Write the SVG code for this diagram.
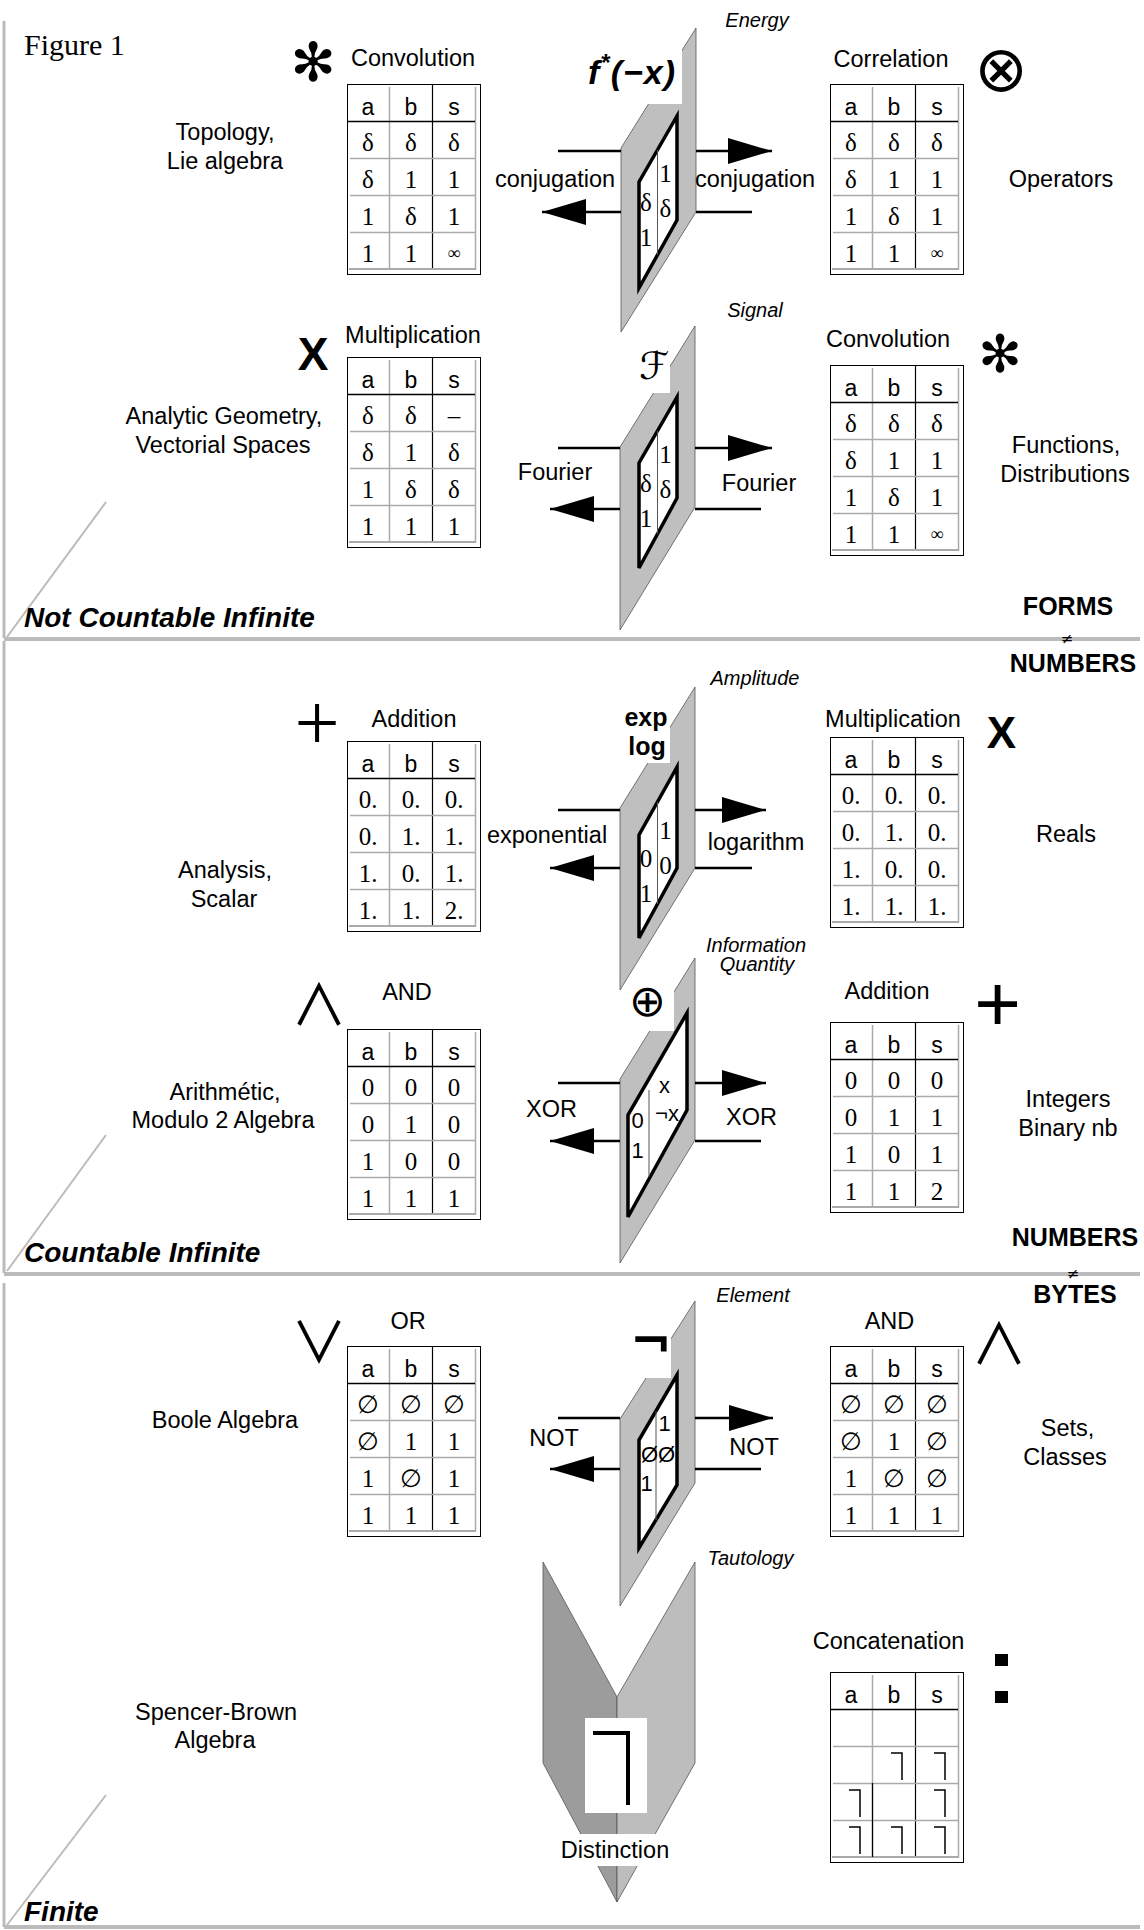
<svg xmlns="http://www.w3.org/2000/svg" xmlns:xlink="http://www.w3.org/1999/xlink" width="1144" height="1930" viewBox="0 0 1144 1930">
<style>
.lbl{font-family:"Liberation Sans",Arial,sans-serif;font-size:23.5px;text-anchor:middle;fill:#000}
.it{font-family:"Liberation Sans",Arial,sans-serif;font-size:20px;font-style:italic;text-anchor:middle}
.sec{font-family:"Liberation Sans",Arial,sans-serif;font-size:28px;font-style:italic;font-weight:bold}
.big{font-family:"Liberation Sans",Arial,sans-serif;font-size:25px;font-weight:bold;text-anchor:middle}
.th{font-family:"Liberation Sans",Arial,sans-serif;font-size:23px;text-anchor:middle}
.td{font-family:"Liberation Serif","Times New Roman",serif;font-size:25px;text-anchor:middle}
.inf{font-family:"Liberation Serif","DejaVu Serif",serif;font-size:18px;text-anchor:middle}
.wt{font-family:"Liberation Serif","Times New Roman",serif;font-size:25px;text-anchor:middle}
.ws{font-family:"Liberation Sans",Arial,sans-serif;font-size:22px;text-anchor:middle}
.sym{font-family:"DejaVu Sans",sans-serif;text-anchor:middle}
.lg{font-family:"Noto Sans CJK JP","DejaVu Sans",sans-serif;text-anchor:middle}
.plane{fill:#bfbfbf;stroke:#555;stroke-width:0.8}
.win{fill:#fff;stroke:#000;stroke-width:3.5;stroke-linejoin:miter}
.mid{stroke:#555;stroke-width:1}
.wb{fill:#fff}
.frame{stroke:#bbb;stroke-width:3;fill:none}
.div{stroke:#bbb;stroke-width:4}
.diag{stroke:#bbb;stroke-width:2}
.conn{stroke:#000;stroke-width:2.5;fill:none}
.gl{stroke:#aaa;stroke-width:1.5}
.bl{stroke:#000;stroke-width:1.2}
.mk{stroke:#000;stroke-width:1.5;fill:none}
</style>
<defs>
<marker id="ah" markerUnits="userSpaceOnUse" markerWidth="48" markerHeight="30" refX="44" refY="13" orient="auto">
<path d="M0,0 L44,13 L0,26 z" fill="#000"/>
</marker>
<g id="tframe">
<rect x="0.5" y="0.5" width="133" height="190" fill="#fff" stroke="#000" stroke-width="1"/>
<line class="gl" x1="42.5" y1="3" x2="42.5" y2="185"/>
<line class="bl" x1="85.5" y1="1" x2="85.5" y2="185"/>
<line class="gl" x1="128.5" y1="3" x2="128.5" y2="186"/>
<line stroke="#000" stroke-width="1.6" x1="1" y1="37.5" x2="128" y2="37.5"/>
<line class="gl" x1="3" y1="74.5" x2="128" y2="74.5"/>
<line class="gl" x1="3" y1="111.5" x2="128" y2="111.5"/>
<line class="gl" x1="3" y1="148.5" x2="128" y2="148.5"/>
<line stroke="#aaa" stroke-width="2" x1="2" y1="185" x2="129" y2="185"/>
<text class="th" x="21" y="31">a</text>
<text class="th" x="64" y="31">b</text>
<text class="th" x="107" y="31">s</text>
</g>
</defs>
<rect width="1144" height="1930" fill="#fff"/>

<g id="frame">
<line class="frame" x1="4" y1="21" x2="4" y2="638"/>
<line class="frame" x1="4" y1="641" x2="4" y2="1273"/>
<line class="frame" x1="4" y1="1283" x2="4" y2="1927"/>
<line class="div" x1="4" y1="639" x2="1140" y2="639"/>
<line class="div" x1="4" y1="1274" x2="1140" y2="1274"/>
<line class="div" x1="4" y1="1927" x2="1140" y2="1927"/>
<line class="diag" x1="106" y1="502" x2="7" y2="637"/>
<line class="diag" x1="106" y1="1135" x2="7" y2="1271"/>
<line class="diag" x1="106" y1="1795" x2="7" y2="1925"/>
<text x="24" y="55" font-family="Liberation Serif,Times New Roman,serif" font-size="30">Figure 1</text>
<text class="sec" x="24" y="627">Not Countable Infinite</text>
<text class="sec" x="24" y="1262">Countable Infinite</text>
<text class="sec" x="24" y="1921">Finite</text>
<text class="big" x="1068" y="615">FORMS</text>
<text x="1067" y="644" font-family="DejaVu Sans,sans-serif" font-size="15" text-anchor="middle">≠</text>
<text class="big" x="1073" y="672">NUMBERS</text>
<text class="big" x="1075" y="1246">NUMBERS</text>
<text x="1073" y="1279" font-family="DejaVu Sans,sans-serif" font-size="15" text-anchor="middle">≠</text>
<text class="big" x="1075" y="1303">BYTES</text>
</g>

<!-- Section 1 -->
<g id="domain-topology">
<text class="lbl" x="225" y="140">Topology,</text>
<text class="lbl" x="225" y="169">Lie algebra</text>
</g>
<g id="op-convolution-left">
<text class="sym" x="313" y="81" font-size="54">✻</text>
<text class="lbl" x="413" y="66">Convolution</text>
<g transform="translate(347,84)"><use xlink:href="#tframe"/>
<text class="td" x="21" y="67">δ</text><text class="td" x="64" y="67">δ</text><text class="td" x="107" y="67">δ</text>
<text class="td" x="21" y="104">δ</text><text class="td" x="64" y="104">1</text><text class="td" x="107" y="104">1</text>
<text class="td" x="21" y="141">1</text><text class="td" x="64" y="141">δ</text><text class="td" x="107" y="141">1</text>
<text class="td" x="21" y="178">1</text><text class="td" x="64" y="178">1</text><text class="inf" x="107" y="175">∞</text>
</g>
</g>
<g id="op-correlation">
<text class="lbl" x="891" y="67">Correlation</text>
<text class="sym" x="1001" y="91" font-size="64">⊗</text>
<g transform="translate(830,84)"><use xlink:href="#tframe"/>
<text class="td" x="21" y="67">δ</text><text class="td" x="64" y="67">δ</text><text class="td" x="107" y="67">δ</text>
<text class="td" x="21" y="104">δ</text><text class="td" x="64" y="104">1</text><text class="td" x="107" y="104">1</text>
<text class="td" x="21" y="141">1</text><text class="td" x="64" y="141">δ</text><text class="td" x="107" y="141">1</text>
<text class="td" x="21" y="178">1</text><text class="td" x="64" y="178">1</text><text class="inf" x="107" y="175">∞</text>
</g>
</g>
<g id="domain-operators"><text class="lbl" x="1061" y="187">Operators</text></g>

<g id="plane-energy">
<polygon class="plane" points="621,148 696,28 696,212 621,332"/>
<rect class="wb" x="583" y="40" width="99" height="64"/>
<text x="588" y="84" font-family="Liberation Sans,Arial,sans-serif" font-size="34" font-weight="bold" font-style="italic" letter-spacing="1">f<tspan dy="-13" font-size="24">*</tspan><tspan dy="13">(−x)</tspan></text>
<polygon class="win" points="677,116 639,182 639,288 677,220"/>
<line class="mid" x1="657.5" y1="150" x2="657.5" y2="255"/>
<text class="wt" x="665.5" y="182">1</text>
<text class="wt" x="646" y="211">δ</text>
<text class="wt" x="665.5" y="217">δ</text>
<text class="wt" x="646" y="246">1</text>
<text class="it" x="757" y="27">Energy</text>
<text class="lbl" x="555" y="187">conjugation</text>
<text class="lbl" x="755" y="187">conjugation</text>
</g>

<g id="domain-analytic">
<text class="lbl" x="224" y="424">Analytic Geometry,</text>
<text class="lbl" x="223" y="453">Vectorial Spaces</text>
</g>
<g id="op-multiplication-left">
<text x="313" y="370" font-family="Liberation Sans,Arial,sans-serif" font-size="46" font-weight="bold" text-anchor="middle">X</text>
<text class="lbl" x="413" y="343">Multiplication</text>
<g transform="translate(347,357)"><use xlink:href="#tframe"/>
<text class="td" x="21" y="67">δ</text><text class="td" x="64" y="67">δ</text><text class="td" x="107" y="67">–</text>
<text class="td" x="21" y="104">δ</text><text class="td" x="64" y="104">1</text><text class="td" x="107" y="104">δ</text>
<text class="td" x="21" y="141">1</text><text class="td" x="64" y="141">δ</text><text class="td" x="107" y="141">δ</text>
<text class="td" x="21" y="178">1</text><text class="td" x="64" y="178">1</text><text class="td" x="107" y="178">1</text>
</g>
</g>
<g id="op-convolution-right">
<text class="lbl" x="888" y="347">Convolution</text>
<text class="sym" x="1000" y="372" font-size="52">✻</text>
<g transform="translate(830,365)"><use xlink:href="#tframe"/>
<text class="td" x="21" y="67">δ</text><text class="td" x="64" y="67">δ</text><text class="td" x="107" y="67">δ</text>
<text class="td" x="21" y="104">δ</text><text class="td" x="64" y="104">1</text><text class="td" x="107" y="104">1</text>
<text class="td" x="21" y="141">1</text><text class="td" x="64" y="141">δ</text><text class="td" x="107" y="141">1</text>
<text class="td" x="21" y="178">1</text><text class="td" x="64" y="178">1</text><text class="inf" x="107" y="175">∞</text>
</g>
</g>
<g id="domain-functions">
<text class="lbl" x="1066" y="453">Functions,</text>
<text class="lbl" x="1065" y="482">Distributions</text>
</g>

<g id="plane-signal">
<polygon class="plane" points="620,447 695,326 695,507 620,630"/>
<rect class="wb" x="636" y="335" width="34" height="58"/>
<text x="654" y="379" font-family="DejaVu Serif,DejaVu Sans,serif" font-size="38" font-style="italic" text-anchor="middle">ℱ</text>
<polygon class="win" points="677,397 639,463 639,568 677,498"/>
<line class="mid" x1="657.5" y1="431" x2="657.5" y2="534"/>
<text class="wt" x="665.5" y="463">1</text>
<text class="wt" x="646" y="492">δ</text>
<text class="wt" x="665.5" y="498">δ</text>
<text class="wt" x="646" y="527">1</text>
<text class="it" x="755" y="317">Signal</text>
<text class="lbl" x="555" y="480">Fourier</text>
<text class="lbl" x="759" y="491">Fourier</text>
</g>

<!-- Section 2 -->
<g id="domain-analysis">
<text class="lbl" x="225" y="878">Analysis,</text>
<text class="lbl" x="224" y="907">Scalar</text>
</g>
<g id="op-addition-left">
<text x="317" y="750" font-family="Liberation Serif,Times New Roman,serif" font-size="80" text-anchor="middle">+</text>
<text class="lbl" x="414" y="727">Addition</text>
<g transform="translate(347,741)"><use xlink:href="#tframe"/>
<text class="td" x="21" y="67">0.</text><text class="td" x="64" y="67">0.</text><text class="td" x="107" y="67">0.</text>
<text class="td" x="21" y="104">0.</text><text class="td" x="64" y="104">1.</text><text class="td" x="107" y="104">1.</text>
<text class="td" x="21" y="141">1.</text><text class="td" x="64" y="141">0.</text><text class="td" x="107" y="141">1.</text>
<text class="td" x="21" y="178">1.</text><text class="td" x="64" y="178">1.</text><text class="td" x="107" y="178">2.</text>
</g>
</g>
<g id="op-multiplication-right">
<text class="lbl" x="893" y="727">Multiplication</text>
<text x="1001.5" y="748" font-family="Liberation Sans,Arial,sans-serif" font-size="44" font-weight="bold" text-anchor="middle">X</text>
<g transform="translate(830,737)"><use xlink:href="#tframe"/>
<text class="td" x="21" y="67">0.</text><text class="td" x="64" y="67">0.</text><text class="td" x="107" y="67">0.</text>
<text class="td" x="21" y="104">0.</text><text class="td" x="64" y="104">1.</text><text class="td" x="107" y="104">0.</text>
<text class="td" x="21" y="141">1.</text><text class="td" x="64" y="141">0.</text><text class="td" x="107" y="141">0.</text>
<text class="td" x="21" y="178">1.</text><text class="td" x="64" y="178">1.</text><text class="td" x="107" y="178">1.</text>
</g>
</g>
<g id="domain-reals"><text class="lbl" x="1066" y="842">Reals</text></g>

<g id="plane-amplitude">
<polygon class="plane" points="620,808 695,687 695,868 620,990"/>
<rect class="wb" x="614" y="700" width="56" height="63"/>
<text x="646" y="726" font-family="Liberation Sans,Arial,sans-serif" font-size="25" font-weight="bold" text-anchor="middle">exp</text>
<text x="647" y="755" font-family="Liberation Sans,Arial,sans-serif" font-size="25" font-weight="bold" text-anchor="middle">log</text>
<polygon class="win" points="677,767 639,835 639,938 677,868"/>
<line class="mid" x1="657.5" y1="802" x2="657.5" y2="904"/>
<text class="wt" x="665.5" y="839">1</text>
<text class="wt" x="646" y="867">0</text>
<text class="wt" x="665.5" y="874">0</text>
<text class="wt" x="646" y="902">1</text>
<text class="it" x="755" y="685">Amplitude</text>
<text class="lbl" x="547" y="843">exponential</text>
<text class="lbl" x="756" y="850">logarithm</text>
</g>

<g id="domain-arithmetic">
<text class="lbl" x="225" y="1100">Arithmétic,</text>
<text class="lbl" x="223" y="1128">Modulo 2 Algebra</text>
</g>
<g id="op-and-left">
<text class="lg" x="319" y="1025" font-size="56">∧</text>
<text class="lbl" x="407" y="1000">AND</text>
<g transform="translate(347,1029)"><use xlink:href="#tframe"/>
<text class="td" x="21" y="67">0</text><text class="td" x="64" y="67">0</text><text class="td" x="107" y="67">0</text>
<text class="td" x="21" y="104">0</text><text class="td" x="64" y="104">1</text><text class="td" x="107" y="104">0</text>
<text class="td" x="21" y="141">1</text><text class="td" x="64" y="141">0</text><text class="td" x="107" y="141">0</text>
<text class="td" x="21" y="178">1</text><text class="td" x="64" y="178">1</text><text class="td" x="107" y="178">1</text>
</g>
</g>
<g id="op-addition-right">
<text class="lbl" x="887" y="999">Addition</text>
<text x="997.5" y="1031" font-family="Liberation Sans,Arial,sans-serif" font-size="80" text-anchor="middle">+</text>
<g transform="translate(830,1022)"><use xlink:href="#tframe"/>
<text class="td" x="21" y="67">0</text><text class="td" x="64" y="67">0</text><text class="td" x="107" y="67">0</text>
<text class="td" x="21" y="104">0</text><text class="td" x="64" y="104">1</text><text class="td" x="107" y="104">1</text>
<text class="td" x="21" y="141">1</text><text class="td" x="64" y="141">0</text><text class="td" x="107" y="141">1</text>
<text class="td" x="21" y="178">1</text><text class="td" x="64" y="178">1</text><text class="td" x="107" y="178">2</text>
</g>
</g>
<g id="domain-integers">
<text class="lbl" x="1068" y="1107">Integers</text>
<text class="lbl" x="1068" y="1136">Binary nb</text>
</g>

<g id="plane-information">
<polygon class="plane" points="620,1079 695,958 695,1140 620,1263"/>
<rect class="wb" x="631" y="978" width="43" height="53"/>
<text class="sym" x="647.5" y="1016" font-size="44">⊕</text>
<polygon class="win" points="687,1013 628,1115 628,1217 687,1110"/>
<line class="mid" x1="649" y1="1090" x2="649" y2="1177"/>
<text class="ws" x="664.5" y="1093">x</text>
<text class="ws" x="667" y="1121">¬x</text>
<text class="ws" x="637.6" y="1128">0</text>
<text class="ws" x="637.6" y="1158">1</text>
<text class="it" x="756" y="952">Information</text>
<text class="it" x="757" y="971">Quantity</text>
<text class="lbl" x="551.5" y="1117">XOR</text>
<text class="lbl" x="751.5" y="1125">XOR</text>
</g>

<!-- Section 3 -->
<g id="domain-boole"><text class="lbl" x="225" y="1428">Boole Algebra</text></g>
<g id="op-or">
<text class="lg" x="319" y="1362" font-size="56">∨</text>
<text class="lbl" x="408" y="1329">OR</text>
<g transform="translate(347,1346)"><use xlink:href="#tframe"/>
<text class="td" x="21" y="67">∅</text><text class="td" x="64" y="67">∅</text><text class="td" x="107" y="67">∅</text>
<text class="td" x="21" y="104">∅</text><text class="td" x="64" y="104">1</text><text class="td" x="107" y="104">1</text>
<text class="td" x="21" y="141">1</text><text class="td" x="64" y="141">∅</text><text class="td" x="107" y="141">1</text>
<text class="td" x="21" y="178">1</text><text class="td" x="64" y="178">1</text><text class="td" x="107" y="178">1</text>
</g>
</g>
<g id="op-and-right">
<text class="lbl" x="889.5" y="1329">AND</text>
<text class="lg" x="999" y="1364" font-size="56">∧</text>
<g transform="translate(830,1346)"><use xlink:href="#tframe"/>
<text class="td" x="21" y="67">∅</text><text class="td" x="64" y="67">∅</text><text class="td" x="107" y="67">∅</text>
<text class="td" x="21" y="104">∅</text><text class="td" x="64" y="104">1</text><text class="td" x="107" y="104">∅</text>
<text class="td" x="21" y="141">1</text><text class="td" x="64" y="141">∅</text><text class="td" x="107" y="141">∅</text>
<text class="td" x="21" y="178">1</text><text class="td" x="64" y="178">1</text><text class="td" x="107" y="178">1</text>
</g>
</g>
<g id="domain-sets">
<text class="lbl" x="1067.5" y="1436">Sets,</text>
<text class="lbl" x="1065" y="1465">Classes</text>
</g>

<g id="plane-element">
<polygon class="plane" points="620,1419 695,1301 695,1483 620,1606"/>
<rect class="wb" x="622" y="1318" width="49" height="60"/>
<text x="651" y="1358" font-family="DejaVu Sans,sans-serif" font-size="50" font-weight="bold" text-anchor="middle">¬</text>
<polygon class="win" points="677,1375 639,1440 639,1548 677,1485"/>
<line class="mid" x1="656" y1="1411" x2="656" y2="1520"/>
<text class="ws" x="664.5" y="1431">1</text>
<text class="ws" x="658" y="1462">ØØ</text>
<text class="ws" x="646.6" y="1491">1</text>
<text class="it" x="753" y="1302">Element</text>
<text class="lbl" x="554" y="1446">NOT</text>
<text class="lbl" x="754" y="1455">NOT</text>
</g>

<g id="domain-spencer">
<text class="lbl" x="216" y="1720">Spencer-Brown</text>
<text class="lbl" x="215" y="1748">Algebra</text>
</g>
<g id="distinction">
<polygon points="543,1562 617,1697 617,1902 543,1763" fill="#9c9c9c" stroke="#555" stroke-width="0.8"/>
<polygon points="695,1562 617,1697 617,1902 695,1763" fill="#bdbdbd" stroke="#555" stroke-width="0.8"/>
<rect class="wb" x="585" y="1718" width="62" height="95"/>
<polyline points="593,1733 628,1733 628,1805" fill="none" stroke="#000" stroke-width="4"/>
<rect class="wb" x="556" y="1834" width="119" height="32"/>
<text class="lbl" x="615" y="1858">Distinction</text>
<text class="it" x="750.5" y="1565">Tautology</text>
</g>
<g id="op-concatenation">
<text class="lbl" x="888.5" y="1649">Concatenation</text>
<rect x="995" y="1654" width="13" height="12" fill="#000"/>
<rect x="995" y="1691" width="13" height="12" fill="#000"/>
<g transform="translate(830,1672)"><use xlink:href="#tframe"/>
<line stroke="#000" stroke-width="1.2" x1="42.5" y1="111" x2="42.5" y2="185"/>
<polyline class="mk" points="61,81 72,81 72,108"/>
<polyline class="mk" points="104,81 115,81 115,108"/>
<polyline class="mk" points="19,118 30,118 30,145"/>
<polyline class="mk" points="104,118 115,118 115,145"/>
<polyline class="mk" points="19,155 30,155 30,182"/>
<polyline class="mk" points="61,155 72,155 72,182"/>
<polyline class="mk" points="104,155 115,155 115,182"/>
</g>
</g>

<g id="connectors">
<line class="conn" x1="558" y1="151" x2="621" y2="151"/>
<line class="conn" x1="696" y1="151" x2="772" y2="151" marker-end="url(#ah)"/>
<line class="conn" x1="621" y1="212" x2="542" y2="212" marker-end="url(#ah)"/>
<line class="conn" x1="696" y1="212" x2="752" y2="212"/>

<line class="conn" x1="558" y1="448" x2="620" y2="448"/>
<line class="conn" x1="695" y1="448" x2="772" y2="448" marker-end="url(#ah)"/>
<line class="conn" x1="620" y1="509" x2="550" y2="509" marker-end="url(#ah)"/>
<line class="conn" x1="695" y1="509" x2="761" y2="509"/>

<line class="conn" x1="558" y1="810" x2="620" y2="810"/>
<line class="conn" x1="695" y1="810" x2="766" y2="810" marker-end="url(#ah)"/>
<line class="conn" x1="620" y1="868" x2="550" y2="868" marker-end="url(#ah)"/>
<line class="conn" x1="695" y1="868" x2="752" y2="868"/>

<line class="conn" x1="558" y1="1083" x2="620" y2="1083"/>
<line class="conn" x1="695" y1="1083" x2="766" y2="1083" marker-end="url(#ah)"/>
<line class="conn" x1="620" y1="1141" x2="550" y2="1141" marker-end="url(#ah)"/>
<line class="conn" x1="695" y1="1141" x2="761" y2="1141"/>

<line class="conn" x1="558" y1="1418" x2="620" y2="1418"/>
<line class="conn" x1="695" y1="1418" x2="773" y2="1418" marker-end="url(#ah)"/>
<line class="conn" x1="620" y1="1469" x2="550" y2="1469" marker-end="url(#ah)"/>
<line class="conn" x1="695" y1="1469" x2="761" y2="1469"/>
</g>
</svg>
